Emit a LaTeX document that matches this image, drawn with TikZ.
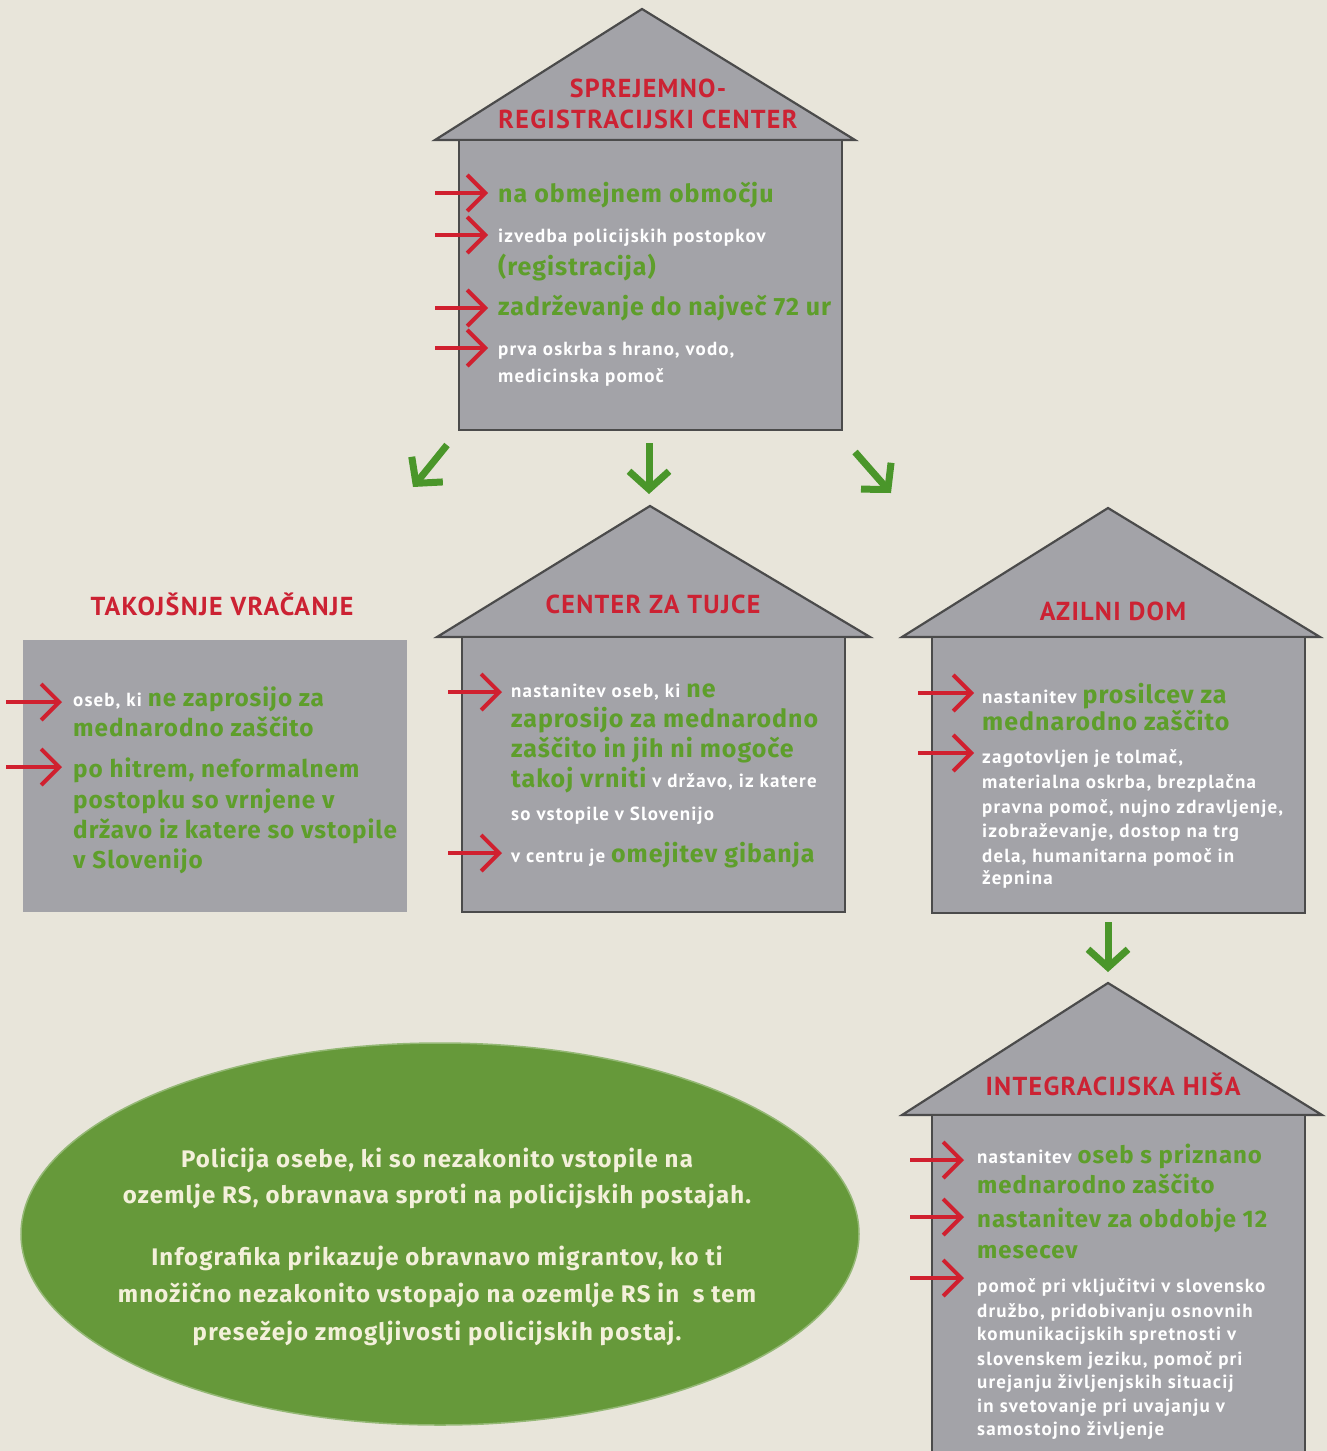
\documentclass[tikz,border=0pt]{standalone}
\usepackage{fontspec}
\usetikzlibrary{arrows.meta,shapes.geometric}
\newfontfamily\firag{Fira Sans}[LetterSpace=4]
\newfontfamily\firae{Fira Sans}[LetterSpace=5]
\newfontfamily\ptsw{PT Sans}[LetterSpace=6]
\newfontfamily\ptst{PT Sans}[LetterSpace=5]
\definecolor{bgc}{HTML}{E8E5DA}
\definecolor{boxc}{HTML}{A3A3A8}
\definecolor{edgec}{HTML}{4B4B4B}
\definecolor{titred}{HTML}{CC2233}
\definecolor{arrred}{HTML}{D0202F}
\definecolor{tgreen}{HTML}{5E9E2B}
\definecolor{agreen}{HTML}{4A962A}
\definecolor{ellc}{HTML}{66993A}
\definecolor{cream}{HTML}{F3F0DA}
\newcommand{\grn}[2][25]{{\firag\bfseries\fontsize{#1}{#1}\selectfont\color{tgreen}#2}}
\tikzset{
  housebody/.style={draw=edgec, fill=boxc, line width=2.2pt, inner sep=0pt, rectangle},
  flatbox/.style={fill=boxc, inner sep=0pt, rectangle},
  roofst/.style={draw=edgec, fill=boxc, line width=2.2pt, line join=miter},
  ttl/.style={font=\ptst\bfseries\fontsize{26}{26}\selectfont, text=titred, inner sep=0pt, anchor=base},
  gbig/.style={font=\firag\bfseries\fontsize{#1}{#1}\selectfont, text=tgreen, inner sep=0pt, anchor=base west},
  gbig/.default=25,
  wsm/.style={font=\ptsw\bfseries\fontsize{19}{19}\selectfont, text=white, inner sep=0pt, anchor=base west},
  elltxt/.style={font=\firae\bfseries\fontsize{24}{24}\selectfont, text=cream, inner sep=0pt, anchor=base},
  redarr/.style={draw=arrred, line width=4pt, -{Straight Barb[length=18pt,width=36pt]}},
  grarr/.style={draw=agreen, line width=7pt, -{Straight Barb[length=18pt,width=40pt]}},
}
\begin{document}
\begin{tikzpicture}[x=1pt,y=-1pt]
\useasboundingbox (0,0) rectangle (1327,1451);
\clip (0,0) rectangle (1327,1451);
\fill[bgc] (0,0) rectangle (1327,1451);

% ---------- House 1 ----------
\filldraw[roofst] (435,140) -- (642,9) -- (855,140) -- cycle;
\node[housebody, minimum width=383pt, minimum height=290pt] (b1) at (650.5,285) {};
\node[ttl] (t1a) at (648,97) {SPREJEMNO-};
\node[ttl] (t1b) at (648,128) {REGISTRACIJSKI CENTER};
\node[gbig] (h1l1) at (498,202) {na obmejnem območju};
\node[wsm] (h1l2) at (498,242) {izvedba policijskih postopkov};
\node[gbig] (h1l3) at (498,275) {(registracija)};
\node[gbig] (h1l4) at (498,315) {zadrževanje do največ 72 ur};
\node[wsm] (h1l5) at (498,355) {prva oskrba s hrano, vodo,};
\node[wsm] (h1l6) at (498,382) {medicinska pomoč};
\foreach \i/\yy in {1/193,2/235,3/308,4/348}{
  \coordinate (a1s\i) at (435,\yy);
  \coordinate (a1e\i) at (488,\yy);
  \draw[redarr] (a1s\i) -- (a1e\i);
}

% ---------- Green arrows ----------
\coordinate (g1s) at (447,445); \coordinate (g1e) at (413,487);
\coordinate (g2s) at (649,443); \coordinate (g2e) at (649,494);
\coordinate (g3s) at (855,452); \coordinate (g3e) at (891,493);
\coordinate (g4s) at (1108,922); \coordinate (g4e) at (1108,972);
\draw[grarr] (g1s) -- (g1e);
\draw[grarr] (g2s) -- (g2e);
\draw[grarr] (g3s) -- (g3e);
\draw[grarr] (g4s) -- (g4e);

% ---------- Takojsnje vracanje ----------
\node[flatbox, minimum width=384pt, minimum height=272pt] (b2) at (215,776) {};
\node[ttl] (t2) at (222,615) {TAKOJŠNJE VRAČANJE};
\node[wsm] (h2l1) at (73,706) {oseb, ki \grn[24.3]{ne zaprosijo za}};
\node[gbig=24.3] (h2l2) at (73,736) {mednarodno zaščito};
\node[gbig=24.3] (h2l3) at (73,777) {po hitrem, neformalnem};
\node[gbig=24.3] (h2l4) at (73,808) {postopku so vrnjene v};
\node[gbig=24.3] (h2l5) at (73,838) {državo iz katere so vstopile};
\node[gbig=24.3] (h2l6) at (73,868) {v Slovenijo};
\foreach \i/\yy in {1/702,2/767}{
  \coordinate (a2s\i) at (6,\yy);
  \coordinate (a2e\i) at (62,\yy);
  \draw[redarr] (a2s\i) -- (a2e\i);
}

% ---------- Center za tujce ----------
\filldraw[roofst] (437,637) -- (650,506) -- (870,637) -- cycle;
\node[housebody, minimum width=383pt, minimum height=275pt] (b3) at (653.5,774.5) {};
\node[ttl] (t3) at (653,613) {CENTER ZA TUJCE};
\node[wsm] (h3l1) at (511,697) {nastanitev oseb, ki \grn{ne}};
\node[gbig] (h3l2) at (511,727) {zaprosijo za mednarodno};
\node[gbig] (h3l3) at (511,757) {zaščito in jih ni mogoče};
\node[wsm] (h3l4) at (511,787) {\grn{takoj vrniti} v državo, iz katere};
\node[wsm] (h3l5) at (511,820) {so vstopile v Slovenijo};
\node[wsm] (h3l6) at (511,862) {v centru je \grn{omejitev gibanja}};
\foreach \i/\yy in {1/692,2/853}{
  \coordinate (a3s\i) at (448,\yy);
  \coordinate (a3e\i) at (502,\yy);
  \draw[redarr] (a3s\i) -- (a3e\i);
}

% ---------- Azilni dom ----------
\filldraw[roofst] (902,637) -- (1108,508) -- (1320,637) -- cycle;
\node[housebody, minimum width=373pt, minimum height=276pt] (b4) at (1118.5,775) {};
\node[ttl] (t4) at (1113,620) {AZILNI DOM};
\node[wsm] (h4l1) at (982,703) {nastanitev \grn{prosilcev za}};
\node[gbig] (h4l2) at (982,730) {mednarodno zaščito};
\node[wsm] (h4l3) at (982,763) {zagotovljen je tolmač,};
\node[wsm] (h4l4) at (982,788) {materialna oskrba, brezplačna};
\node[wsm] (h4l5) at (982,813) {pravna pomoč, nujno zdravljenje,};
\node[wsm] (h4l6) at (982,837) {izobraževanje, dostop na trg};
\node[wsm] (h4l7) at (982,862) {dela, humanitarna pomoč in};
\node[wsm] (h4l8) at (982,884) {žepnina};
\foreach \i/\yy in {1/693,2/753}{
  \coordinate (a4s\i) at (918,\yy);
  \coordinate (a4e\i) at (974,\yy);
  \draw[redarr] (a4s\i) -- (a4e\i);
}

% ---------- Integracijska hisa ----------
\filldraw[roofst] (902,1115) -- (1108,983) -- (1322,1115) -- cycle;
\node[housebody, minimum width=373pt, minimum height=350pt] (b5) at (1118.5,1290) {};
\node[ttl] (t5) at (1113,1095) {INTEGRACIJSKA HIŠA};
\node[wsm] (h5l1) at (977,1163) {nastanitev \grn[24]{oseb s priznano}};
\node[gbig=24] (h5l2) at (977,1193) {mednarodno zaščito};
\node[gbig=24] (h5l3) at (977,1227) {nastanitev za obdobje 12};
\node[gbig=24] (h5l4) at (977,1258) {mesecev};
\node[wsm] (h5l5) at (977,1292) {pomoč pri vključitvi v slovensko};
\node[wsm] (h5l6) at (977,1317) {družbo, pridobivanju osnovnih};
\node[wsm] (h5l7) at (977,1340) {komunikacijskih spretnosti v};
\node[wsm] (h5l8) at (977,1365) {slovenskem jeziku, pomoč pri};
\node[wsm] (h5l9) at (977,1388) {urejanju življenjskih situacij};
\node[wsm] (h5l10) at (977,1412) {in svetovanje pri uvajanju v};
\node[wsm] (h5l11) at (977,1435) {samostojno življenje};
\foreach \i/\yy in {1/1160,2/1217,3/1278}{
  \coordinate (a5s\i) at (910,\yy);
  \coordinate (a5e\i) at (964,\yy);
  \draw[redarr] (a5s\i) -- (a5e\i);
}

% ---------- Ellipse ----------
\node[ellipse, fill=ellc, draw=ellc!70!white, line width=1.5pt, minimum width=838pt, minimum height=382pt, inner sep=0pt] (ell) at (440,1234) {};
\node[elltxt] (e1) at (437,1167) {Policija osebe, ki so nezakonito vstopile na};
\node[elltxt] (e2) at (437,1203) {ozemlje RS, obravnava sproti na policijskih postajah.};
\node[elltxt] (e3) at (437,1265) {Infografika prikazuje obravnavo migrantov, ko ti};
\node[elltxt] (e4) at (437,1302) {množično nezakonito vstopajo na ozemlje RS in\ \ s tem};
\node[elltxt] (e5) at (437,1340) {presežejo zmogljivosti policijskih postaj.};
\end{tikzpicture}
\end{document}
